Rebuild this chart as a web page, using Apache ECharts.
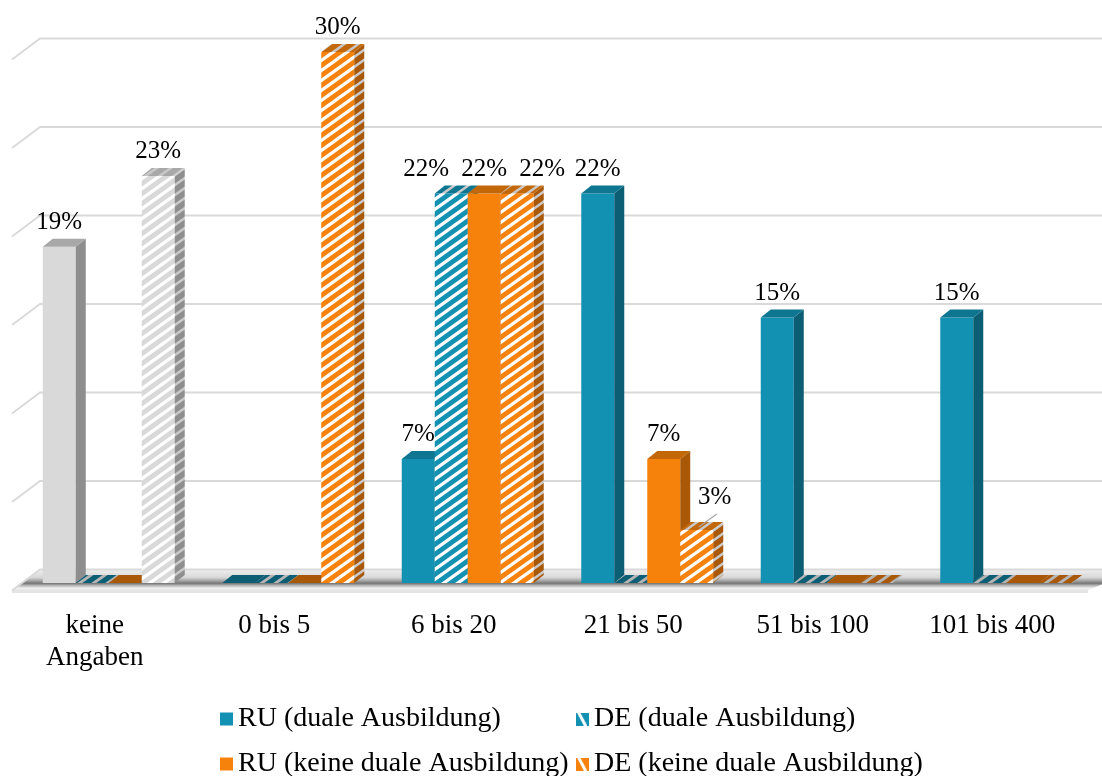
<!DOCTYPE html>
<html>
<head>
<meta charset="utf-8">
<script src="https://cdn.jsdelivr.net/npm/echarts@6/dist/echarts.min.js"></script>
<style>
  html, body { margin: 0; padding: 0; background: #ffffff; }
  #chart { width: 1102px; height: 776px; }
</style>
</head>
<body>
<div id="chart"></div>
<script>
// Betriebsgröße (Mitarbeiterzahl) – Anteile in Prozent
const categories = ['keine\nAngaben', '0 bis 5', '6 bis 20', '21 bis 50', '51 bis 100', '101 bis 400'];
const seriesNames = [
  'RU (duale Ausbildung)',
  'DE (duale Ausbildung)',
  'RU (keine duale Ausbildung)',
  'DE (keine duale Ausbildung)'
];
const ruDual   = [19, 0, 7, 22, 15, 15];
const deDual   = [0, 0, 22, 0, 0, 0];
const ruNoDual = [0, 0, 22, 7, 0, 0];
const deNoDual = [23, 30, 22, 3, 0, 0];
const yTicks = [0, 5, 10, 15, 20, 25, 30];

const seriesValues = [ruDual, deDual, ruNoDual, deNoDual];
const unspecifiedCategory = categories[0];

// ---- styling ----
const FONT = '"Liberation Serif", "Times New Roman", serif';
const TEAL   = { front: '#1391B2', side: '#0B5E74', top: '#0E7690' };
const ORANGE = { front: '#F6820C', side: '#A85806', top: '#C26809' };
const GREY   = { front: '#D9D9D9', side: '#8E8E8E', top: '#A8A8A8' };
const BAR_FRAC = 33 / 179.5;      // bar width as share of the category band
const START_FRAC = -52 / 179.5;   // first bar offset from band centre
const DX = 10, DY = 8;            // bar depth
const WALL_DX = 28, WALL_DY = 21; // floor / side wall depth
const LABEL_PITCH = 58;           // min spacing of equal labels side by side

function stripePattern(base, stripe, lineW) {
  const W = 14, H = 10;
  const c = document.createElement('canvas');
  c.width = W; c.height = H;
  const g = c.getContext('2d');
  g.fillStyle = base; g.fillRect(0, 0, W, H);
  g.strokeStyle = stripe; g.lineWidth = lineW;
  for (const o of [-H, 0, H]) {
    g.beginPath(); g.moveTo(-W, 2 * H + o); g.lineTo(2 * W, -H + o); g.stroke();
  }
  return { image: c, repeat: 'repeat' };
}

function fillsFor(pal, hatched) {
  if (!hatched) {
    return { front: pal.front, side: pal.side, top: pal.top, flat: pal.side };
  }
  return {
    front: stripePattern(pal.front, '#ffffff', 3.2),
    side: stripePattern(pal.side, '#c9c9c9', 2.6),
    top: stripePattern(pal.top, '#c9c9c9', 2.6),
    flat: stripePattern(pal.side, '#b5b5b5', 3)
  };
}

function legendIcon(color) {
  const c = document.createElement('canvas');
  c.width = 13; c.height = 13;
  const g = c.getContext('2d');
  g.fillStyle = color; g.fillRect(0, 0, 13, 13);
  g.strokeStyle = '#ffffff'; g.lineWidth = 3;
  g.beginPath(); g.moveTo(2, -1); g.lineTo(10, 14); g.stroke();
  return 'image://' + c.toDataURL();
}

// horizontal label shift when neighbouring bars carry the same value
function labelSpread(k, ci) {
  const v = seriesValues[k][ci];
  let a = k, b = k;
  while (a > 0 && seriesValues[a - 1][ci] === v) a--;
  while (b < seriesValues.length - 1 && seriesValues[b + 1][ci] === v) b++;
  const n = b - a + 1;
  return n > 1 ? (k - a - (n - 1) / 2) : 0;
}

function renderBar(k, pal, hatched) {
  const normal = fillsFor(pal, hatched);
  const grey = fillsFor(GREY, hatched);
  return function (params, api) {
    const ci = api.value(0), v = api.value(1);
    const base = api.coord([ci, 0]);
    const top = api.coord([ci, v]);
    const band = api.size([1, 0])[0];
    const w = band * BAR_FRAC;
    const x = base[0] + band * START_FRAC + k * w;
    const y0 = base[1], y1 = top[1];
    const f = (categories[ci] === unspecifiedCategory && v > 0) ? grey : normal;
    const children = [];
    if (v > 0) {
      children.push({ type: 'rect', shape: { x: x, y: y1, width: w, height: y0 - y1 }, style: { fill: f.front } });
      children.push({ type: 'polygon', shape: { points: [[x + w, y0], [x + w, y1], [x + w + DX, y1 - DY], [x + w + DX, y0 - DY]] }, style: { fill: f.side } });
      children.push({ type: 'polygon', shape: { points: [[x, y1], [x + DX, y1 - DY], [x + w + DX, y1 - DY], [x + w, y1]] }, style: { fill: f.top } });
      let lx = x + w / 2 + labelSpread(k, ci) * (LABEL_PITCH - w);
      let ly = y1 - DY - 4;
      const prev = k > 0 ? seriesValues[k - 1][ci] : 0;
      if (prev > v) {
        // label pushed aside when the neighbouring bar is taller
        lx += 18; ly -= 8;
        children.push({ type: 'line', z2: 90, shape: { x1: lx + 2, y1: ly + 4, x2: x + w / 2 + 2, y2: y1 - 3 }, style: { stroke: '#a6a6a6', lineWidth: 1.2 } });
      }
      children.push({
        type: 'text', z2: 100,
        style: { text: v + '%', x: lx, y: ly, align: 'center', verticalAlign: 'bottom',
                 textAlign: 'center', textVerticalAlign: 'bottom',
                 font: '25px ' + FONT, fill: '#000000' }
      });
    } else {
      children.push({ type: 'polygon', shape: { points: [[x, y0], [x + DX, y0 - DY], [x + w + DX, y0 - DY], [x + w, y0]] }, style: { fill: f.flat } });
    }
    return { type: 'group', children: children };
  };
}

function renderWall(params, api) {
  const v = api.value(1);
  const cs = params.coordSys;
  const y0 = api.coord([0, 0])[1];
  const yf = api.coord([0, v])[1];
  const yb = yf - 13.5;
  const fx = cs.x + 7;
  const right = cs.x + cs.width + 60;
  const children = [];
  if (v === 0) {
    const yBack = y0 - 14, yFront = y0 + 7;
    children.push({
      type: 'polygon',
      shape: { points: [[fx, yFront], [fx + WALL_DX, yBack], [right, yBack], [cs.x + cs.width + 6, yFront]] },
      style: {
        fill: new echarts.graphic.LinearGradient(0, 0, 0, 1, [
          { offset: 0, color: '#f0f0f0' },
          { offset: 0.4, color: '#d8d8d8' },
          { offset: 0.55, color: '#a8a8a8' },
          { offset: 0.68, color: '#767676' },
          { offset: 0.8, color: '#bdbdbd' },
          { offset: 0.92, color: '#f2f2f2' },
          { offset: 1, color: '#e2e2e2' }
        ])
      }
    });
    children.push({ type: 'line', shape: { x1: fx, y1: yFront + 1.5, x2: cs.x + cs.width + 6, y2: yFront + 1.5 }, style: { stroke: '#e4e4e4', lineWidth: 3 } });
  }
  children.push({
    type: 'polyline',
    shape: { points: [[fx, yb + WALL_DY], [fx + WALL_DX, yb], [right, yb]] },
    style: { stroke: '#d9d9d9', lineWidth: 1.8, fill: null }
  });
  return { type: 'group', children: children };
}

const palettes = [TEAL, TEAL, ORANGE, ORANGE];
const hatchedFlags = [false, true, false, true];

const series = [{
  type: 'custom',
  name: 'wall',
  coordinateSystem: 'cartesian2d',
  data: yTicks.map(v => [0, v]),
  encode: { x: 0, y: 1 },
  renderItem: renderWall,
  silent: true,
  z: 1
}];
seriesValues.forEach((vals, k) => {
  series.push({
    type: 'custom',
    name: seriesNames[k],
    coordinateSystem: 'cartesian2d',
    data: vals.map((v, i) => [i, v]),
    encode: { x: 0, y: 1 },
    itemStyle: { color: palettes[k].front },
    renderItem: renderBar(k, palettes[k], hatchedFlags[k]),
    z: 2
  });
});

const legendText = { fontSize: 28, fontFamily: FONT, color: '#000000', lineHeight: 30 };
const legendPos = [[215, 699], [571, 699], [215, 744], [571, 744]];
const legends = seriesNames.map((name, k) => ({
  data: [{ name: name, icon: hatchedFlags[k] ? legendIcon(palettes[k].front) : 'rect' }],
  left: legendPos[k][0], top: legendPos[k][1],
  itemWidth: 13, itemHeight: 13, itemGap: 0, itemTextGap: 4,
  textStyle: legendText,
  selectedMode: false
}));

const chart = echarts.init(document.getElementById('chart'), null, { renderer: 'canvas' });
chart.setOption({
  animation: false,
  backgroundColor: '#ffffff',
  grid: { left: 5, right: 20, top: 52, bottom: 193, containLabel: false },
  xAxis: {
    type: 'category',
    data: categories,
    axisLine: { show: false },
    axisTick: { show: false },
    splitLine: { show: false },
    axisLabel: { fontSize: 27, fontFamily: FONT, color: '#000000', margin: 27, lineHeight: 32, interval: 0 }
  },
  yAxis: {
    type: 'value', min: 0, max: 30, interval: 5,
    show: false
  },
  legend: legends,
  series: series
});
</script>
</body>
</html>
